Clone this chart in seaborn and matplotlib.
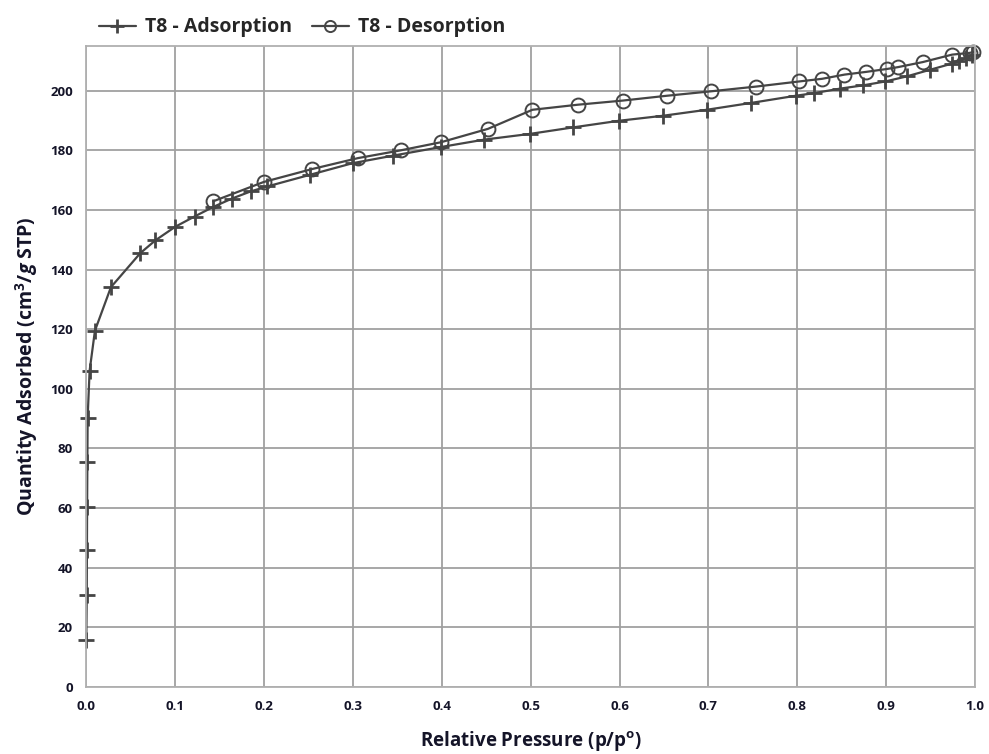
import matplotlib
matplotlib.use("Agg")
import matplotlib.pyplot as plt
import seaborn as sns
import pandas as pd
from matplotlib.ticker import MultipleLocator

# Data
ads_x = [0.0003, 0.0008, 0.001, 0.0012, 0.0015, 0.0018, 0.004, 0.010, 0.028, 0.061, 0.078,
         0.100, 0.122, 0.143, 0.164, 0.185, 0.204, 0.252, 0.300, 0.345, 0.399,
         0.448, 0.499, 0.548, 0.599, 0.649, 0.698, 0.748, 0.798, 0.819, 0.848,
         0.874, 0.899, 0.923, 0.949, 0.974, 0.982, 0.990, 0.996]
ads_y = [15.8, 30.9, 46.0, 60.4, 75.5, 90.3, 106.0, 119.5, 134.1, 145.5, 149.8,
         154.3, 157.8, 161.0, 163.8, 166.2, 167.9, 171.8, 175.7, 178.2, 181.1,
         183.6, 185.5, 187.7, 189.9, 191.6, 193.6, 195.9, 198.3, 199.2, 200.7,
         201.8, 203.1, 204.8, 207.0, 209.1, 209.8, 211.0, 212.0]

des_x = [0.998, 0.994, 0.974, 0.941, 0.913, 0.901, 0.877, 0.853, 0.828, 0.802,
         0.754, 0.703, 0.653, 0.604, 0.553, 0.502, 0.452, 0.399, 0.354, 0.306,
         0.254, 0.200, 0.143]
des_y = [213.0, 212.7, 212.1, 209.6, 207.9, 207.3, 206.3, 205.4, 204.0, 203.1,
         201.4, 199.8, 198.3, 196.7, 195.3, 193.6, 187.2, 182.7, 180.0, 177.4,
         173.7, 169.4, 162.9]

labels = ["T8 - Adsorption", "T8 - Desorption"]
x_ticks = [0.0, 0.1, 0.2, 0.3, 0.4, 0.5, 0.6, 0.7, 0.8, 0.9, 1.0]
y_ticks = [0, 20, 40, 60, 80, 100, 120, 140, 160, 180, 200]

sns.set_style("white")
plt.rcParams['font.family'] = ['Open Sans', 'DejaVu Sans']
plt.rcParams['mathtext.fontset'] = 'custom'
plt.rcParams['mathtext.rm'] = 'Open Sans:bold'
plt.rcParams['mathtext.bf'] = 'Open Sans:bold'
plt.rcParams['mathtext.it'] = 'Open Sans:bold:italic'

fig = plt.figure(figsize=(9.89, 7.54), dpi=100)
ax = fig.add_axes([0.087, 0.089, 0.899, 0.850])

line_c = '#454545'
df_a = pd.DataFrame({'x': ads_x, 'y': ads_y})
df_d = pd.DataFrame({'x': des_x, 'y': des_y})

sns.lineplot(data=df_a, x='x', y='y', ax=ax, sort=False, estimator=None, color=line_c, lw=1.6,
             marker='+', markersize=12, markeredgewidth=2.0, markeredgecolor=line_c,
             label=labels[0], legend=False, clip_on=False)
sns.lineplot(data=df_d, x='x', y='y', ax=ax, sort=False, estimator=None, color=line_c, lw=1.6,
             marker='o', markersize=10, markerfacecolor='none', markeredgewidth=1.4,
             markeredgecolor=line_c, label=labels[1], legend=False, clip_on=False)

ax.set_xlim(0, 1.0)
ax.set_ylim(0, 215)
ax.set_xticks(x_ticks)
ax.set_xticklabels([f"{v:.1f}" for v in x_ticks])
ax.set_yticks(y_ticks)
ax.xaxis.set_minor_locator(MultipleLocator(0.02))
ax.yaxis.set_minor_locator(MultipleLocator(5))

ax.grid(True, which='major', color='#a0a0a0', lw=1.3)
ax.set_axisbelow(True)
for s in ax.spines.values():
    s.set_color('#b0b0b0')
    s.set_linewidth(1.3)

ax.tick_params(which='major', direction='out', length=6, width=1.2, color='#999999',
               labelsize=9.5, labelcolor='#141428')
ax.tick_params(which='minor', direction='out', length=4, width=1.0, color='#aaaaaa')
for lab in ax.get_xticklabels() + ax.get_yticklabels():
    lab.set_fontweight('bold')

ax.set_xlabel(r'Relative Pressure (p/p$^\mathbf{o}$)', fontsize=13.5, fontweight='bold',
              color='#141428', labelpad=12)
ax.set_ylabel(r'Quantity Adsorbed (cm$^\mathbf{3}$/$\mathit{g}$ STP)', fontsize=14,
              fontweight='bold', color='#141428', labelpad=7)

handles, lbls = ax.get_legend_handles_labels()
fig.legend(handles, lbls, loc='upper left', bbox_to_anchor=(0.082, 1.0), ncol=2,
           frameon=False, prop={'family': 'Open Sans', 'weight': 'bold', 'size': 14},
           handlelength=1.9, columnspacing=1.0, handletextpad=0.5, markerscale=0.8)

fig.savefig('out.png', dpi=100)
